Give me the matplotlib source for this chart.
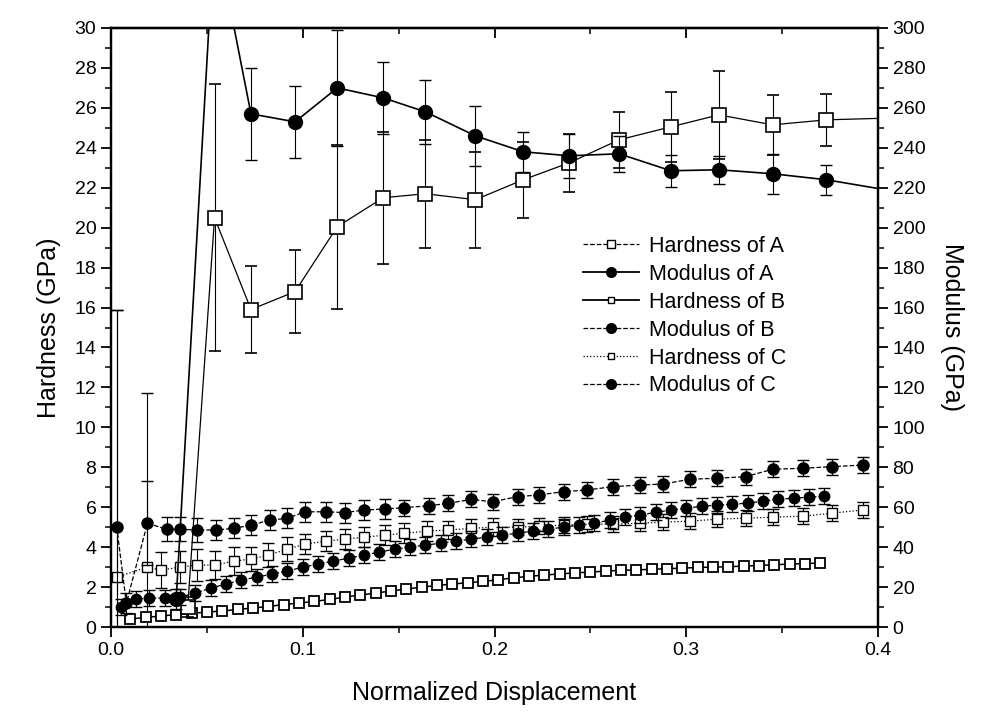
import matplotlib
matplotlib.use('Agg')
import matplotlib.pyplot as plt
from matplotlib.ticker import MultipleLocator, FormatStrFormatter
from matplotlib.lines import Line2D

plt.rcParams['font.family'] = ['Liberation Sans', 'DejaVu Sans']

# ---------------- data ----------------
# Hardness of A (GPa, left axis)
hA_x = [0.040, 0.054, 0.073, 0.096, 0.118, 0.142, 0.164, 0.190, 0.215, 0.239,
        0.265, 0.292, 0.317, 0.345, 0.373, 0.410]
hA_y = [1.0, 20.5, 15.9, 16.8, 20.05, 21.5, 21.7, 21.4, 22.4, 23.25,
        24.4, 25.05, 25.65, 25.15, 25.4, 25.5]
hA_e = [0.5, 6.7, 2.2, 2.1, 4.1, 3.3, 2.7, 2.4, 1.9, 1.45,
        1.4, 1.75, 2.2, 1.5, 1.3, 1.3]

# Modulus of A (GPa, right axis)
mA_x = [0.034, 0.054, 0.073, 0.096, 0.118, 0.142, 0.164, 0.190, 0.215, 0.239,
        0.265, 0.292, 0.317, 0.345, 0.373, 0.410]
mA_y = [14, 350, 257, 253, 270, 265, 258, 246, 238, 236,
        237, 228.5, 229, 227, 224, 218]
mA_e = [5, 40, 23, 18, 29, 18, 16, 15, 10, 11,
        9, 8, 7, 10, 7.5, 8]

# Hardness of B (GPa, left axis)
hB_x = [0.010, 0.018, 0.026, 0.034, 0.042, 0.050, 0.058, 0.066, 0.074, 0.082,
        0.090, 0.098, 0.106, 0.114, 0.122, 0.130, 0.138, 0.146, 0.154, 0.162,
        0.170, 0.178, 0.186, 0.194, 0.202, 0.210, 0.218, 0.226, 0.234, 0.242,
        0.250, 0.258, 0.266, 0.274, 0.282, 0.290, 0.298, 0.306, 0.314, 0.322,
        0.330, 0.338, 0.346, 0.354, 0.362, 0.370]
hB_y = [0.40, 0.48, 0.55, 0.62, 0.68, 0.75, 0.80, 0.88, 0.95, 1.03,
        1.12, 1.20, 1.28, 1.38, 1.50, 1.60, 1.70, 1.80, 1.90, 2.00,
        2.08, 2.15, 2.22, 2.28, 2.37, 2.46, 2.54, 2.60, 2.66, 2.71,
        2.75, 2.80, 2.84, 2.86, 2.89, 2.92, 2.95, 2.98, 3.00, 3.02,
        3.05, 3.08, 3.12, 3.15, 3.18, 3.20]

# Modulus of B (GPa, right axis)
mB_x = [0.005, 0.013, 0.020, 0.028, 0.036, 0.044, 0.052, 0.060, 0.068, 0.076,
        0.084, 0.092, 0.100, 0.108, 0.116, 0.124, 0.132, 0.140, 0.148, 0.156,
        0.164, 0.172, 0.180, 0.188, 0.196, 0.204, 0.212, 0.220, 0.228, 0.236,
        0.244, 0.252, 0.260, 0.268, 0.276, 0.284, 0.292, 0.300, 0.308, 0.316,
        0.324, 0.332, 0.340, 0.348, 0.356, 0.364, 0.372]
mB_y = [10, 14, 14.5, 14.5, 15, 17, 19.5, 21.5, 23.5, 25,
        26.5, 28, 30, 31.5, 33, 34.5, 36, 37.5, 39, 40,
        41, 42, 43, 44, 45, 46, 47, 48, 49, 50,
        51, 52, 53.5, 55, 56, 57.5, 58.5, 59.5, 60.5, 61,
        61.5, 62, 63, 64, 64.5, 65, 65.5]
mB_e = [4] * len(mB_x)

# Hardness of C (GPa, left axis)
hC_x = [0.003, 0.019, 0.026, 0.036, 0.045, 0.054, 0.064, 0.073, 0.082, 0.092,
        0.101, 0.112, 0.122, 0.132, 0.143, 0.153, 0.165, 0.176, 0.188, 0.199,
        0.212, 0.223, 0.236, 0.248, 0.262, 0.276, 0.288, 0.302, 0.316, 0.331,
        0.345, 0.361, 0.376, 0.392]
hC_y = [2.5, 3.0, 2.85, 3.0, 3.1, 3.1, 3.3, 3.4, 3.6, 3.9,
        4.15, 4.3, 4.4, 4.5, 4.6, 4.7, 4.8, 4.86, 4.94, 5.0,
        5.0, 5.05, 5.1, 5.15, 5.15, 5.2, 5.25, 5.3, 5.4, 5.45,
        5.5, 5.55, 5.7, 5.86]
hC_e = [13.4, 8.7, 0.9, 0.8, 0.8, 0.7, 0.7, 0.6, 0.6, 0.6,
        0.5, 0.5, 0.5, 0.5, 0.5, 0.5, 0.5, 0.45, 0.45, 0.45,
        0.4, 0.4, 0.4, 0.4, 0.4, 0.4, 0.4, 0.4, 0.4, 0.4,
        0.4, 0.4, 0.4, 0.4]

# Modulus of C (GPa, right axis)
mC_x = [0.003, 0.008, 0.019, 0.029, 0.036, 0.045, 0.055, 0.064, 0.073, 0.083,
        0.092, 0.101, 0.112, 0.122, 0.132, 0.143, 0.153, 0.166, 0.176, 0.188,
        0.199, 0.212, 0.223, 0.236, 0.248, 0.262, 0.276, 0.288, 0.302, 0.316,
        0.331, 0.345, 0.361, 0.376, 0.392]
mC_y = [50, 12, 51.9, 49, 48.9, 48.6, 48.6, 49.4, 51, 53.6,
        54.4, 57.7, 57.7, 57.3, 58.6, 59.1, 59.8, 60.7, 62, 63.9,
        62.7, 65.3, 66.1, 67.8, 68.6, 70.3, 71.1, 71.6, 74, 74.5,
        75.3, 79, 79.5, 80.3, 81.1]
mC_e = [109, 5, 21, 6, 6, 6, 5, 5, 5, 5,
        5, 5, 5, 5, 5, 5, 4, 4, 4, 4,
        4, 4, 4, 4, 4, 4, 4, 4, 4, 4,
        4, 4, 4, 4, 4]

labels = ['Hardness of A', 'Modulus of A', 'Hardness of B',
          'Modulus of B', 'Hardness of C', 'Modulus of C']

# ---------------- figure ----------------
fig = plt.figure(figsize=(9.81, 7.13), dpi=100)
ax = fig.add_axes([111 / 981, 1 - 627 / 713, (878 - 111) / 981, (627 - 28) / 713])
ax2 = ax.twinx()

lw = 0.9
ekw = dict(ecolor='black', elinewidth=0.8, capsize=4, capthick=1.0)

# left axis (hardness)
ax.errorbar(hB_x, hB_y, color='black', lw=1.1, ls='-', marker='s', ms=6.5,
            mfc='white', mec='black', mew=1.3, zorder=3)
ax.errorbar(hC_x, hC_y, yerr=hC_e, color='black', lw=lw, ls=':', marker='s', ms=6.5,
            mfc='white', mec='black', mew=1.0, zorder=3, **ekw)
ax.errorbar(hA_x, hA_y, yerr=hA_e, color='black', lw=lw, ls='-', marker='s', ms=9.5,
            mfc='white', mec='black', mew=1.2, zorder=4, **ekw)

# right axis (modulus)
ax2.errorbar(mB_x, mB_y, yerr=mB_e, color='black', lw=lw, ls='--', marker='o', ms=7.5,
             mfc='black', mec='black', zorder=3, **ekw)
ax2.errorbar(mC_x, mC_y, yerr=mC_e, color='black', lw=lw, ls='--', marker='o', ms=8,
             mfc='black', mec='black', zorder=3, **ekw)
ax2.errorbar(mA_x, mA_y, yerr=mA_e, color='black', lw=1.2, ls='-', marker='o', ms=10,
             mfc='black', mec='black', zorder=4, **ekw)

ax.set_xlim(0.0, 0.4)
ax.set_ylim(0, 30)
ax2.set_ylim(0, 300)

ax.xaxis.set_major_locator(MultipleLocator(0.1))
ax.xaxis.set_minor_locator(MultipleLocator(0.05))
ax.xaxis.set_major_formatter(FormatStrFormatter('%.1f'))
ax.yaxis.set_major_locator(MultipleLocator(2))
ax.yaxis.set_minor_locator(MultipleLocator(1))
ax2.yaxis.set_major_locator(MultipleLocator(20))
ax2.yaxis.set_minor_locator(MultipleLocator(10))

ax.tick_params(axis='both', which='major', direction='out', length=7, width=1.3,
               labelsize=14)
ax.tick_params(axis='both', which='minor', direction='out', length=4, width=1.1)
ax2.tick_params(axis='y', which='major', direction='out', length=7, width=1.3,
                labelsize=14)
ax2.tick_params(axis='y', which='minor', direction='out', length=4, width=1.1)

sec = ax.secondary_xaxis('top')
sec.xaxis.set_major_locator(MultipleLocator(0.1))
sec.xaxis.set_minor_locator(MultipleLocator(0.05))
sec.tick_params(axis='x', which='major', direction='in', length=7, width=1.3,
                labeltop=False)
sec.tick_params(axis='x', which='minor', direction='in', length=4, width=1.1)

for a in (ax, ax2):
    for s in a.spines.values():
        s.set_linewidth(1.6)
sec.spines['top'].set_linewidth(1.6)

ax.set_xlabel('Normalized Displacement', fontsize=18, labelpad=16)
ax.set_ylabel('Hardness (GPa)', fontsize=18, labelpad=10)
ax2.set_ylabel('Modulus (GPa)', fontsize=18, rotation=270, labelpad=28)

handles = [
    Line2D([], [], color='black', lw=lw, ls='--', marker='s', ms=6, mfc='white', mec='black'),
    Line2D([], [], color='black', lw=1.3, ls='-', marker='o', ms=7, mfc='black', mec='black'),
    Line2D([], [], color='black', lw=1.3, ls='-', marker='s', ms=5, mfc='white', mec='black'),
    Line2D([], [], color='black', lw=lw, ls='--', marker='o', ms=7, mfc='black', mec='black'),
    Line2D([], [], color='black', lw=lw, ls=':', marker='s', ms=5, mfc='white', mec='black'),
    Line2D([], [], color='black', lw=lw, ls='--', marker='o', ms=7, mfc='black', mec='black'),
]
leg = ax2.legend(handles, labels, loc='upper left', frameon=False, fontsize=15.5,
                 bbox_to_anchor=(583 / 981, 1 - 236 / 713), bbox_transform=fig.transFigure,
                 borderpad=0, borderaxespad=0, handlelength=2.6, handletextpad=0.45,
                 labelspacing=0.32)

fig.savefig('out.png', dpi=100)
